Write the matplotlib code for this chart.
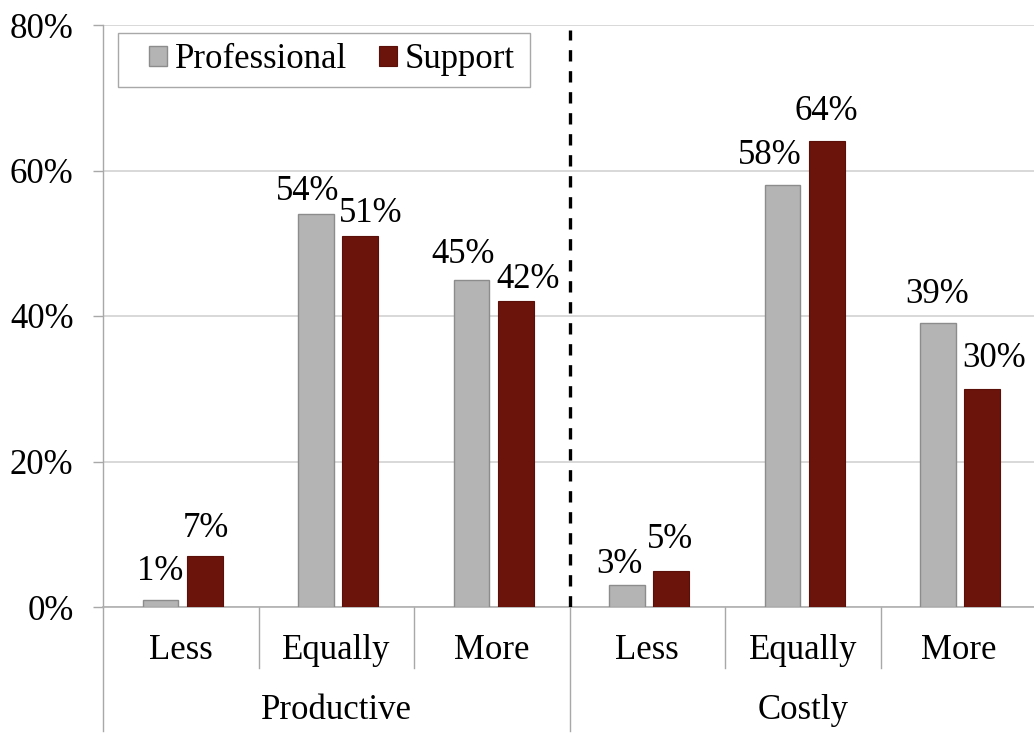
import matplotlib
matplotlib.use("Agg")
import matplotlib.pyplot as plt
import matplotlib.transforms as mtransforms
from matplotlib.patches import Patch, Rectangle

# ---- data ----
groups = ["Productive", "Costly"]
levels = ["Less", "Equally", "More"]
series_names = ["Professional", "Support"]
professional = [1, 54, 45, 3, 58, 39]
support = [7, 51, 42, 5, 64, 30]
yticks = [0, 20, 40, 60, 80]
ytick_labels = ["0%", "20%", "40%", "60%", "80%"]

# ---- style ----
FONT = "Liberation Serif"
FS = 25
GREY = "#b4b4b4"
RED = "#6b140b"
plt.rcParams["font.family"] = [FONT, "DejaVu Serif"]

W, H = 1034, 733
fig = plt.figure(figsize=(W / 100, H / 100), dpi=100)
ax_left, ax_bottom = 103 / W, (H - 607) / H
ax = fig.add_axes([ax_left, ax_bottom, 6 * 155.5 / W, 582 / H])

n = len(professional)
xs = list(range(n))
bw = 0.23
shift = 0.012
off = 0.142
xg = [x + shift - off for x in xs]
xr = [x + shift + off for x in xs]
ax.bar(xg, professional, width=bw, color=GREY, edgecolor="#8c8c8c", linewidth=1.0, zorder=3)
ax.bar(xr, support, width=bw, color=RED, edgecolor="#5a0f08", linewidth=0.8, zorder=3)

ax.set_xlim(-0.5, n - 0.5)
ax.set_ylim(0, 80)
ax.set_yticks(yticks)
ax.set_yticklabels(ytick_labels, fontsize=FS)
ax.set_xticks([])
ax.tick_params(axis="y", length=7.2, width=1, color="#a8a8a8", pad=14)
ax.yaxis.grid(True, color="#d2d2d2", linewidth=1.2, zorder=0)
ax.set_axisbelow(True)
for s in ["top", "right"]:
    ax.spines[s].set_visible(False)
ax.spines["left"].set_color("#a8a8a8")
ax.spines["bottom"].set_color("#b0b0b0")
ax.spines["left"].set_linewidth(1.0)
ax.spines["bottom"].set_linewidth(1.2)

# value labels: offsets in pixels (dx, dy) relative to bar top-center
g_off = [(0, 20), (-8, 14), (-8.5, 17), (-8, 12), (-12.5, 21), (-1, 20)]
r_off = [(1.5, 19), (10.5, 14), (12, 13), (-1, 23), (0, 21), (12, 22)]
px2pt = 72 / 100
for x, v, (dx, dy) in zip(xg, professional, g_off):
    ax.annotate(f"{v}%", (x, v), xytext=(dx * px2pt, dy * px2pt), textcoords="offset points",
                ha="center", va="baseline", fontsize=FS, zorder=5)
for x, v, (dx, dy) in zip(xr, support, r_off):
    ax.annotate(f"{v}%", (x, v), xytext=(dx * px2pt, dy * px2pt), textcoords="offset points",
                ha="center", va="baseline", fontsize=FS, zorder=5)

# dashed divider between groups
ax.plot([2.5, 2.5], [0, 79.3], color="black", linewidth=2.4,
        linestyle=(0, (3.4, 2.9)), zorder=4)

# category axis labels and separators
trans = mtransforms.blended_transform_factory(ax.transData, ax.transAxes)
for i in range(n):
    ax.text(i, (607 - 659) / 582, levels[i % 3], transform=trans, ha="center",
            va="baseline", fontsize=FS)
for gi, g in enumerate(groups):
    ax.text(gi * 3 + 1, (607 - 719) / 582, g, transform=trans, ha="center",
            va="baseline", fontsize=FS)
for xb in [0.5, 1.5, 3.5, 4.5]:
    ax.plot([xb, xb], [0, (607 - 668) / 582], transform=trans, color="#a8a8a8",
            linewidth=1.0, clip_on=False)
for xb in [-0.5, 2.5, 5.5]:
    ax.plot([xb, xb], [0, (607 - 731) / 582], transform=trans, color="#a8a8a8",
            linewidth=1.0, clip_on=False)

# legend (frame drawn separately to match the wide left padding)
fig.patches.append(Rectangle((118 / W, 1 - 87 / H), (530 - 118) / W, (87 - 33) / H,
                             transform=fig.transFigure, facecolor="white",
                             edgecolor="#a8a8a8", linewidth=1.0, zorder=3))
handles = [Patch(facecolor=GREY, edgecolor="#8c8c8c", linewidth=1.0),
           Patch(facecolor=RED, edgecolor="#5a0f08", linewidth=0.8)]
leg = fig.legend(handles, series_names, loc="center left",
                 bbox_to_anchor=(149 / W, 1 - 60 / H), ncol=2, fontsize=FS,
                 frameon=False, handlelength=0.52, handleheight=0.52,
                 handletextpad=0.23, columnspacing=0.9, borderpad=0,
                 borderaxespad=0)
leg.set_zorder(6)

fig.savefig("out.png", dpi=100)
